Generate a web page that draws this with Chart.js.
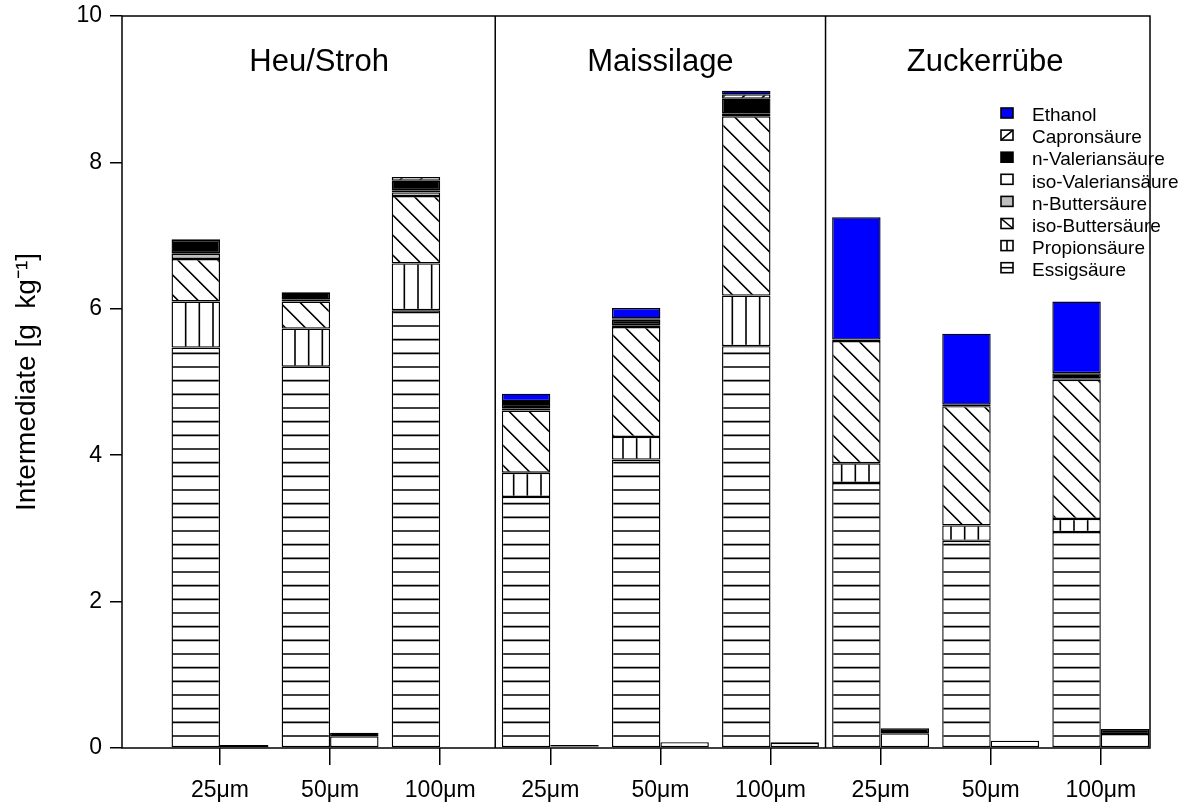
<!DOCTYPE html>
<html>
<head>
<meta charset="utf-8">
<script src="https://cdn.jsdelivr.net/npm/chart.js@4.4.1/dist/chart.umd.min.js"></script>
<style>
  html, body { margin: 0; padding: 0; background: #fff; }
</style>
</head>
<body>
<canvas id="myChart" width="1187" height="810"></canvas>
<script>
const panels = ['Heu/Stroh', 'Maissilage', 'Zuckerrübe'];
const sizes = ['25μm', '50μm', '100μm'];
const yTicks = [0, 2, 4, 6, 8, 10];

// stacked components, bottom to top, one value per bar (3 panels x 3 sizes)
const essig      = [5.47, 5.21, 5.98, 3.43, 3.94, 5.49, 3.62, 2.83, 2.95];
const propion    = [0.63, 0.52, 0.64, 0.33, 0.31, 0.69, 0.27, 0.21, 0.18];
const isoButter  = [0.58, 0.37, 0.92, 0.85, 1.50, 2.45, 1.67, 1.63, 1.90];
const nButter    = [0.07, 0.02, 0.05, 0.02, 0.02, 0.03, 0.00, 0.00, 0.01];
const isoValer   = [0.01, 0.01, 0.03, 0.01, 0.01, 0.01, 0.00, 0.00, 0.01];
const nValer     = [0.18, 0.09, 0.13, 0.06, 0.07, 0.20, 0.02, 0.02, 0.07];
const capron     = [0.01, 0.01, 0.05, 0.04, 0.02, 0.06, 0.00, 0.00, 0.00];
const ethanol    = [0.00, 0.00, 0.00, 0.10, 0.14, 0.05, 1.67, 0.97, 0.98];

// the small bars next to each stack
const restWhite  = [0.01, 0.16, 0.01, 0.02, 0.08, 0.07, 0.20, 0.10, 0.19];
const restBlack  = [0.03, 0.05, 0.00, 0.02, 0.00, 0.01, 0.07, 0.00, 0.07];

const tickLabels = panels.flatMap(() => sizes);
const FONT = '"Liberation Sans", Arial, Helvetica, sans-serif';
Chart.defaults.font.family = FONT;
Chart.defaults.color = '#000';

// hatch tiles, anchored to the canvas like R's hatching
function hatch(kind) {
    const s = kind === 'h' || kind === 'v' ? 41 : 20;
    const c = document.createElement('canvas');
    c.width = s; c.height = s;
    const g = c.getContext('2d');
    g.fillStyle = '#fff';
    g.fillRect(0, 0, s, s);
    g.strokeStyle = '#000';
    g.lineWidth = 1.6;
    g.beginPath();
    if (kind === 'h') {
        [11.67, 25.33, 39].forEach(y => { g.moveTo(0, y); g.lineTo(s, y); });
    } else if (kind === 'v') {
        [8, 21.67, 35.33].forEach(x => { g.moveTo(x, 0); g.lineTo(x, s); });
    } else if (kind === 'back') {
        for (let k = -2; k <= 2; k++) { const c0 = 2.3 + k * s; g.moveTo(-s, -s + c0); g.lineTo(2 * s, 2 * s + c0); }
    } else {
        for (let k = -2; k <= 2; k++) { const c0 = k * s; g.moveTo(-s, s + c0); g.lineTo(2 * s, -2 * s + c0); }
    }
    g.stroke();
    return g.createPattern(c, 'repeat');
}

const components = [
    { label: 'Essigsäure',        data: essig,     fill: hatch('h'),    key: 'h' },
    { label: 'Propionsäure',      data: propion,   fill: hatch('v'),    key: 'v' },
    { label: 'iso-Buttersäure',   data: isoButter, fill: hatch('back'), key: 'back' },
    { label: 'n-Buttersäure',     data: nButter,   fill: '#bebebe',     key: 'gray' },
    { label: 'iso-Valeriansäure', data: isoValer,  fill: '#ffffff',     key: 'white' },
    { label: 'n-Valeriansäure',   data: nValer,    fill: '#000000',     key: 'black' },
    { label: 'Capronsäure',       data: capron,    fill: hatch('fwd'),  key: 'fwd' },
    { label: 'Ethanol',           data: ethanol,   fill: '#0000ff',     key: 'blue' },
];

const toXY = arr => arr.map((v, i) => ({ x: i, y: v }));

const barStyle = {
    borderColor: '#000',
    borderWidth: 1.4,
    borderSkipped: false,
    categoryPercentage: 0.88,
    barPercentage: 1.0,
};

const datasets = components.map(cmp => Object.assign({
    label: cmp.label,
    data: toXY(cmp.data),
    backgroundColor: cmp.fill,
    stack: 'gross',
}, barStyle));

datasets.push(Object.assign({ label: 'rest1', data: toXY(restWhite), backgroundColor: '#fff', stack: 'klein' }, barStyle));
datasets.push(Object.assign({ label: 'rest2', data: toXY(restBlack), backgroundColor: '#000', stack: 'klein' }, barStyle));

function swatch(ctx, key, fill, x, y, w, h) {
    ctx.fillStyle = (typeof fill === 'string') ? fill : '#fff';
    ctx.fillRect(x, y, w, h);
    ctx.beginPath();
    if (key === 'h') { ctx.moveTo(x, y + h / 2); ctx.lineTo(x + w, y + h / 2); }
    if (key === 'v') { ctx.moveTo(x + w / 2, y); ctx.lineTo(x + w / 2, y + h); }
    if (key === 'back') { ctx.moveTo(x, y); ctx.lineTo(x + w, y + h); }
    if (key === 'fwd') { ctx.moveTo(x, y + h); ctx.lineTo(x + w, y); }
    ctx.stroke();
    ctx.strokeRect(x, y, w, h);
}

const framePlugin = {
    id: 'frame',
    afterDatasetsDraw(chart) {
        const { ctx, chartArea: a, scales: { x } } = chart;
        ctx.save();
        ctx.strokeStyle = '#000';
        ctx.lineWidth = 1.5;
        ctx.strokeRect(a.left, a.top, a.right - a.left, a.bottom - a.top);

        // panel separators
        [2.5, 5.5].forEach(v => {
            const px = x.getPixelForValue(v);
            ctx.beginPath();
            ctx.moveTo(px, a.top);
            ctx.lineTo(px, a.bottom);
            ctx.stroke();
        });

        // panel titles
        ctx.fillStyle = '#000';
        ctx.font = '31px ' + FONT;
        ctx.textAlign = 'center';
        ctx.textBaseline = 'middle';
        [0.9, 4, 6.95].forEach((v, i) => ctx.fillText(panels[i], x.getPixelForValue(v), a.top + 46));

        // legend, top item first
        ctx.font = '19px ' + FONT;
        ctx.textAlign = 'left';
        ctx.lineWidth = 1.6;
        components.slice().reverse().forEach((cmp, i) => {
            const yy = 116 + i * 22.1;
            swatch(ctx, cmp.key, cmp.fill, a.right - 149, yy - 8, 12, 10);
            ctx.fillStyle = '#000';
            ctx.fillText(cmp.label, a.right - 118, yy);
        });
        ctx.restore();
    }
};

const config = {
    type: 'bar',
    data: { datasets: datasets },
    options: {
        responsive: false,
        animation: false,
        layout: { padding: { top: 16, right: 37, left: 0, bottom: 0 } },
        plugins: {
            legend: { display: false },
            tooltip: { enabled: false }
        },
        scales: {
            x: {
                type: 'linear',
                min: -0.89,
                max: 8.447,
                offset: false,
                afterBuildTicks: s => { s.ticks = tickLabels.map((_, i) => ({ value: i })); },
                afterFit: s => { s.height = 62; },
                grid: { offset: false, drawOnChartArea: false, drawTicks: true, tickLength: 17, color: '#000', lineWidth: 1.5 },
                border: { display: false },
                ticks: {
                    autoSkip: false,
                    maxRotation: 0,
                    minRotation: 0,
                    padding: 12,
                    color: '#000',
                    font: { size: 23 },
                    callback: v => tickLabels[v]
                }
            },
            y: {
                stacked: true,
                min: 0,
                max: 10,
                afterBuildTicks: s => { s.ticks = yTicks.map(v => ({ value: v })); },
                afterFit: s => { s.width = 122; },
                grid: { drawOnChartArea: false, drawTicks: true, tickLength: 12, color: '#000', lineWidth: 1.5 },
                border: { display: false },
                ticks: { padding: 8, color: '#000', font: { size: 23, lineHeight: 0.6 } },
                title: {
                    display: true,
                    text: 'Intermediate [g  kg⁻¹]',
                    color: '#000',
                    font: { size: 28, lineHeight: 1 },
                    padding: { top: 13, bottom: 0 }
                }
            }
        }
    },
    plugins: [framePlugin]
};

const myChart = new Chart(document.getElementById('myChart'), config);
</script>
</body>
</html>
